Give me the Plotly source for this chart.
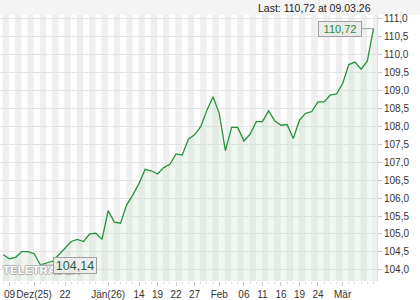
import plotly.graph_objects as go
import pandas as pd

# ---- data -------------------------------------------------------------
holidays = ["2025-12-24", "2025-12-25", "2025-12-26", "2025-12-31", "2026-01-01"]
dates = pd.bdate_range("2025-12-08", "2026-03-09")
dates = dates[~dates.isin(pd.to_datetime(holidays))]

prices = [
    104.42, 104.31, 104.35, 104.51, 104.51, 104.45, 104.14, 104.18, 104.24, 104.42,
    104.60, 104.79, 104.85, 104.79, 105.00, 105.02, 104.85, 105.65, 105.33, 105.30,
    105.81, 106.09, 106.41, 106.80, 106.76, 106.67, 106.85, 106.94, 107.23, 107.20,
    107.64, 107.76, 107.99, 108.45, 108.82, 108.36, 107.32, 107.97, 107.97, 107.59,
    107.78, 108.13, 108.13, 108.43, 108.15, 108.03, 108.05, 107.66, 108.17, 108.36,
    108.41, 108.68, 108.68, 108.87, 108.90, 109.19, 109.72, 109.79, 109.59, 109.82,
    110.72,
]

tick_dates = ["2025-12-09", "2025-12-15", "2025-12-22", "2026-01-07", "2026-01-14",
              "2026-01-19", "2026-01-22", "2026-01-27", "2026-02-02", "2026-02-06",
              "2026-02-11", "2026-02-16", "2026-02-19", "2026-02-24", "2026-03-02"]
tick_text = ["09", "Dez(25)", "22", "Jän(26)", "14", "19", "22", "27", "Feb", "06",
             "11", "16", "19", "24", "Mär"]

y_ticks = [104.0 + 0.5 * i for i in range(15)]

# ---- helpers ----------------------------------------------------------
def de(v):
    return f"{v:.2f}".replace(".", ",")

n = len(prices)
x = list(range(n))
tickvals = [dates.get_loc(pd.Timestamp(d)) for d in tick_dates]
i_min = prices.index(min(prices))

FONT = "Liberation Sans, Arial, sans-serif"
LINE = "#26913f"

fig = go.Figure()
fig.add_trace(go.Scatter(
    x=x, y=prices, mode="lines",
    line=dict(color=LINE, width=1.3),
    fill="tozeroy", fillcolor="rgba(200,222,200,0.28)",
    customdata=[d.strftime("%d.%m.%Y") for d in dates],
    hoverinfo="skip",
))

# alternating day stripes
shapes = []
for k in range(0, n + 1, 2):
    shapes.append(dict(type="rect", xref="x", yref="paper", x0=k - 0.1, x1=k + 0.95,
                       y0=0, y1=1, fillcolor="#efefef", line=dict(width=0), layer="below"))
# header band
shapes.append(dict(type="rect", xref="paper", yref="paper", x0=0, x1=420 / 377,
                   y0=1, y1=1 + 15 / 266, fillcolor="#f4f4f4", line=dict(width=0), layer="below"))

annotations = [
    dict(xref="paper", yref="paper", x=373 / 377, y=(281 - 8) / 266, xanchor="right",
         yanchor="middle", showarrow=False,
         text=f"Last: {de(prices[-1])} at {dates[-1].strftime('%d.%m.%y')}",
         font=dict(family=FONT, size=10.5, color="#222")),
    dict(xref="paper", yref="paper", x=42 / 377, y=(281 - 270) / 266, xanchor="center",
         yanchor="middle", showarrow=False, text="<b>TELETRADER</b>",
         font=dict(family=FONT, size=11.5, color="#ffffff",
                   shadow="-1px 0 #b0b0b0, 1px 0 #b0b0b0, 0 -1px #b0b0b0, 0 1px #b0b0b0")),
    dict(x=i_min, y=prices[i_min], text=de(prices[i_min]), showarrow=True,
         ax=35, ay=1, arrowhead=0, arrowwidth=1, arrowcolor="#a0a0a0", standoff=0,
         bgcolor="rgba(236,236,236,0.92)", bordercolor="#a0a0a0", borderwidth=1,
         width=40, height=13, borderpad=1,
         font=dict(family=FONT, size=12.5, color="#2b5e35")),
    dict(x=n - 1, y=prices[-1], text=de(prices[-1]), showarrow=True,
         ax=-33, ay=0, arrowhead=0, arrowwidth=1, arrowcolor="#a0a0a0", standoff=0,
         bgcolor="#ececec", bordercolor="#a0a0a0", borderwidth=1,
         width=40, height=12, borderpad=1,
         font=dict(family=FONT, size=11, color="#2a8a3e")),
]

fig.update_layout(
    width=420, height=300,
    margin=dict(l=0, r=43, t=15, b=19),
    paper_bgcolor="#ffffff", plot_bgcolor="#ffffff",
    separators=",.",
    showlegend=False,
    shapes=shapes,
    annotations=annotations,
    font=dict(family=FONT, size=10, color="#333"),
    xaxis=dict(
        range=[-0.535, 60.57], showgrid=False, zeroline=False,
        tickmode="array", tickvals=tickvals, ticktext=tick_text,
        tickangle=0, automargin=False,
        ticks="outside", ticklen=4, tickcolor="#c8c8c8", tickwidth=1,
        minor=dict(dtick=1, tick0=0, ticks="outside", ticklen=2, tickcolor="#d8d8d8",
                   showgrid=False),
        showline=False,
        tickfont=dict(family=FONT, size=10, color="#333"),
        fixedrange=True,
    ),
    yaxis=dict(
        range=[103.69, 111.10], side="right", automargin=False,
        tickmode="array", tickvals=y_ticks, tickformat=".1f",
        showgrid=True, gridcolor="#e3e3e3", gridwidth=1, zeroline=False,
        ticks="outside", ticklen=4, tickcolor="#c8c8c8",
        showline=True, linecolor="#e0e0e0", linewidth=1,
        tickfont=dict(family=FONT, size=10, color="#333"),
        fixedrange=True,
    ),
)

fig.write_html("out.html")
